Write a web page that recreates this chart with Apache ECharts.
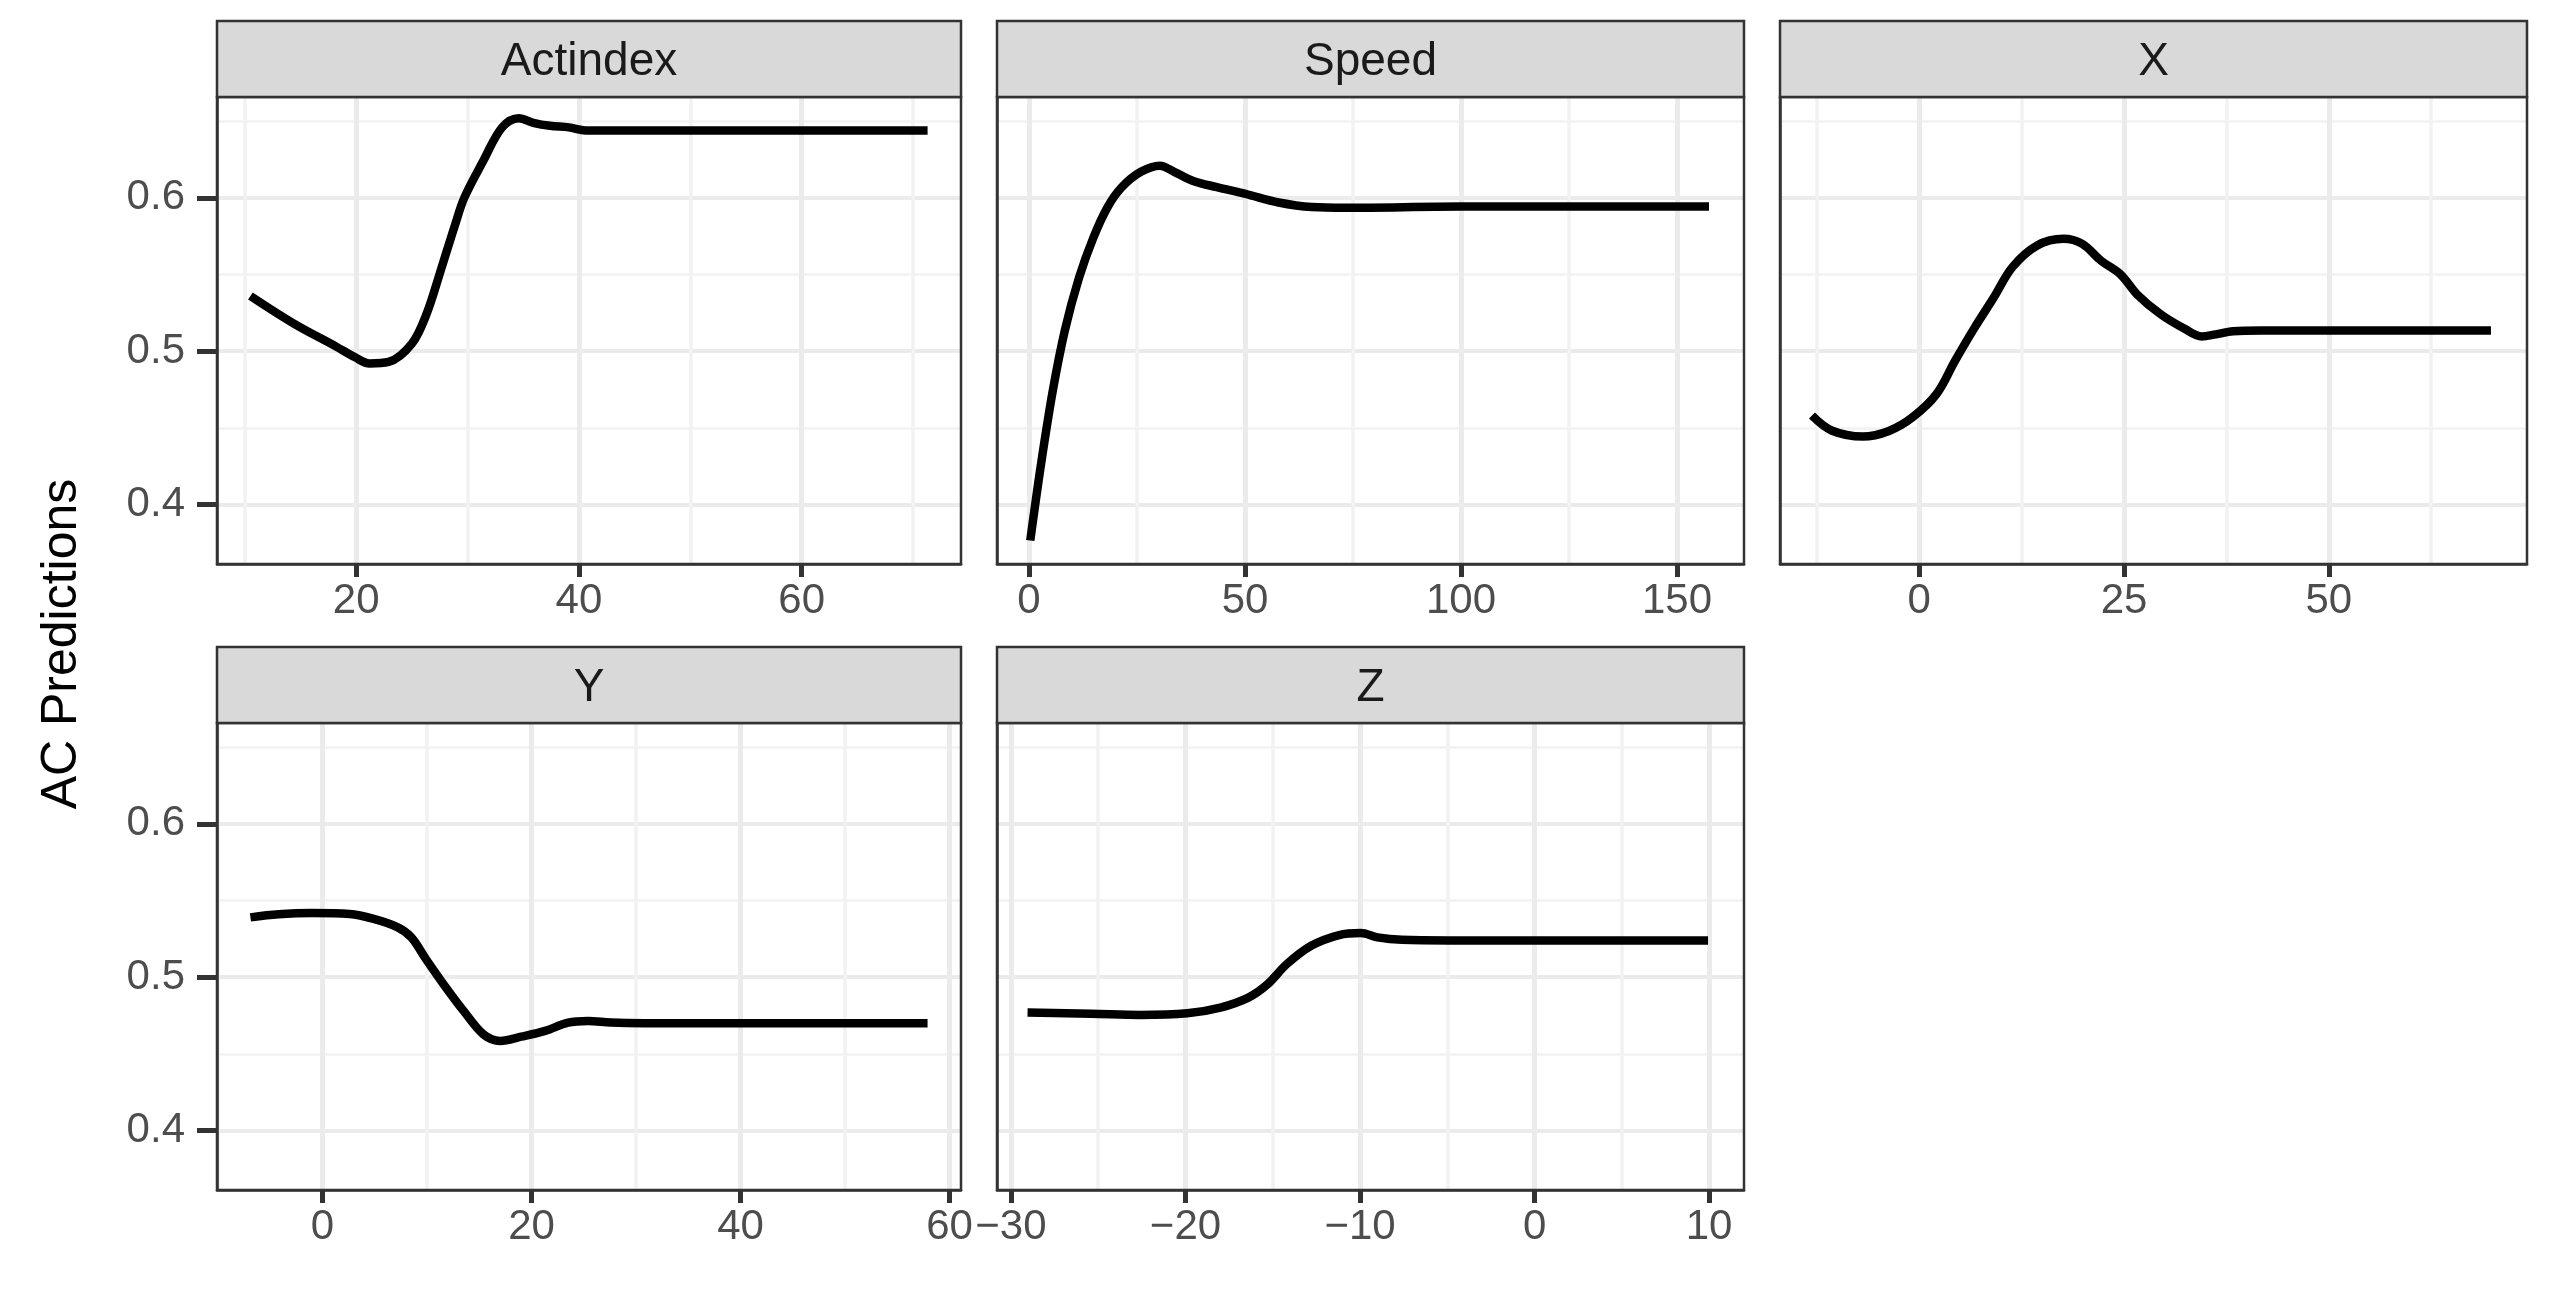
<!DOCTYPE html>
<html>
<head>
<meta charset="utf-8">
<title>AC Predictions</title>
<script src="https://cdn.jsdelivr.net/npm/echarts@6/dist/echarts.min.js"></script>
<style>
  html, body { margin: 0; padding: 0; background: #fff; }
  #chart { width: 2562px; height: 1290px; }
</style>
</head>
<body>
<div id="chart"></div>
<script>
// panel names (facet strips)
const panelNames = ['Actindex', 'Speed', 'X', 'Y', 'Z']

// curves
const actindexX = [10.5, 14.4, 18.2, 19.9, 21.2, 22.9, 25.0, 26.3, 27.6, 28.9, 29.7, 31.4, 33.1, 34.6, 35.9, 37.4, 39.1, 40.6, 45.9, 55, 65, 71.3]
const actindexY = [0.536, 0.518, 0.503, 0.496, 0.492, 0.493, 0.505, 0.524, 0.553, 0.583, 0.600, 0.624, 0.646, 0.652, 0.649, 0.647, 0.646, 0.644, 0.644, 0.644, 0.644, 0.644]

const speedX = [0.3, 2.8, 5.5, 8.3, 11.6, 14.9, 18.2, 21.5, 25.9, 30.3, 33.6, 38.0, 43.5, 50.1, 57.8, 65.5, 73.2, 100, 130, 157.4]
const speedY = [0.3765, 0.4265, 0.474, 0.5135, 0.548, 0.574, 0.594, 0.607, 0.617, 0.621, 0.617, 0.611, 0.607, 0.6026, 0.597, 0.594, 0.5935, 0.5943, 0.5943, 0.5943]

const xX = [-13.1, -10.7, -6.9, -3.7, -0.8, 2.1, 4.4, 6.8, 9.1, 11.4, 14.4, 17.6, 19.9, 22.2, 24.6, 26.6, 29.5, 32.4, 34.5, 36.2, 38.3, 41.8, 55, 69.8]
const xY = [0.458, 0.4483, 0.4443, 0.448, 0.457, 0.472, 0.494, 0.5157, 0.535, 0.555, 0.569, 0.5733, 0.570, 0.559, 0.550, 0.537, 0.524, 0.5146, 0.5096, 0.511, 0.513, 0.5135, 0.5135, 0.5135]

const yX = [-6.9, -4.2, -1.0, 2.6, 4.9, 7.2, 8.5, 9.9, 11.7, 13.5, 15.4, 17.0, 19.0, 21.3, 23.5, 25.4, 27.6, 30.8, 45, 57.9]
const yY = [0.539, 0.541, 0.5418, 0.5412, 0.538, 0.5325, 0.526, 0.5118, 0.4943, 0.478, 0.4627, 0.4584, 0.4612, 0.465, 0.4704, 0.4715, 0.4704, 0.470, 0.470, 0.470]

const zX = [-29.05, -25.4, -22.6, -19.9, -18.0, -16.4, -15.3, -14.2, -12.8, -11.2, -9.96, -9.0, -7.6, -4.9, 2.5, 9.94]
const zY = [0.4769, 0.4762, 0.4754, 0.4765, 0.4802, 0.4867, 0.4954, 0.5085, 0.5205, 0.5275, 0.5288, 0.526, 0.5244, 0.524, 0.524, 0.524]

// tick labels
const yTicks = [0.4, 0.5, 0.6]
const yMinor = [0.45, 0.55, 0.65]
const actindexTicks = [20, 40, 60]
const actindexMinor = [10, 30, 50, 70]
const speedTicks = [0, 50, 100, 150]
const speedMinor = [25, 75, 125]
const xTicks = [0, 25, 50]
const xMinor = [-12.5, 12.5, 37.5, 62.5]
const yPanelTicks = [0, 20, 40, 60]
const yPanelMinor = [-10, 10, 30, 50]
const zTicks = [-30, -20, -10, 0, 10]
const zMinor = [-25, -15, -5, 5]

// axis ranges (free x scales, shared y)
const xRanges = [[7.5, 74.3], [-7.4, 165.5], [-17.0, 74.2], [-10.1, 61.1], [-30.8, 12.0]]
const yRange = [0.3612, 0.6658]

const curves = [[actindexX, actindexY], [speedX, speedY], [xX, xY], [yX, yY], [zX, zY]]
const majorTicks = [actindexTicks, speedTicks, xTicks, yPanelTicks, zTicks]
const minorTicks = [actindexMinor, speedMinor, xMinor, yPanelMinor, zMinor]

// layout
const FONT = "'Liberation Sans', Arial, sans-serif"
const colLeft = [217, 997, 1780]
const colWidth = [744, 747, 747]
const rowTop = [97, 723]
const panelH = 467
const stripH = 76
const boxes = panelNames.map((n, i) => {
  const c = i % 3, r = Math.floor(i / 3)
  return { left: colLeft[c], top: rowTop[r], width: colWidth[c], height: panelH, col: c }
})

const minus = v => String(v).replace('-', '\u2212')

const grid = boxes.map(b => ({
  left: b.left, top: b.top, width: b.width, height: b.height, show: false
}))

const xAxis = []
const yAxis = []
boxes.forEach((b, i) => {
  // major x
  xAxis.push({
    gridIndex: i, type: 'value', min: xRanges[i][0], max: xRanges[i][1], position: 'bottom',
    axisLine: { show: true, onZero: false, lineStyle: { color: '#333333', width: 2.5 } },
    axisTick: { show: true, length: 13, customValues: majorTicks[i], lineStyle: { color: '#333333', width: 5 } },
    axisLabel: { customValues: majorTicks[i], margin: 16, fontSize: 42, color: '#4D4D4D', fontFamily: FONT, formatter: minus },
    splitLine: { show: true, lineStyle: { color: '#EBEBEB', width: 5 } }
  })
  // minor x (grid lines only)
  xAxis.push({
    gridIndex: i, type: 'value', min: xRanges[i][0], max: xRanges[i][1], position: 'top',
    axisLine: { show: false, onZero: false }, axisLabel: { show: false },
    axisTick: { show: false, customValues: minorTicks[i] },
    splitLine: { show: true, lineStyle: { color: '#F2F2F2', width: 3.5 } }
  })
  const showY = b.col === 0
  yAxis.push({
    gridIndex: i, type: 'value', min: yRange[0], max: yRange[1], position: 'left',
    axisLine: { show: true, onZero: false, lineStyle: { color: '#333333', width: 2.5 } },
    axisTick: { show: showY, length: 20, customValues: yTicks, lineStyle: { color: '#333333', width: 5 } },
    axisLabel: { show: showY, customValues: yTicks, margin: 32, fontSize: 42, color: '#4D4D4D', fontFamily: FONT, formatter: v => v.toFixed(1) },
    splitLine: { show: true, lineStyle: { color: '#EBEBEB', width: 4 } }
  })
  yAxis.push({
    gridIndex: i, type: 'value', min: yRange[0], max: yRange[1], position: 'right',
    axisLine: { show: false, onZero: false }, axisLabel: { show: false },
    axisTick: { show: false, customValues: yMinor },
    splitLine: { show: true, lineStyle: { color: '#F2F2F2', width: 2.5 } }
  })
})

const series = curves.map((c, i) => ({
  type: 'line',
  name: panelNames[i],
  xAxisIndex: 2 * i,
  yAxisIndex: 2 * i,
  data: c[0].map((x, k) => [x, c[1][k]]),
  symbol: 'none',
  smooth: 0.35,
  lineStyle: { color: '#000', width: 8.5 },
  z: 5,
  silent: true
}))

const graphic = []
boxes.forEach((b, i) => {
  // panel border
  graphic.push({
    type: 'rect', z: 50, silent: true,
    shape: { x: b.left, y: b.top, width: b.width, height: b.height },
    style: { fill: null, stroke: '#333333', lineWidth: 2.5 }
  })
  // strip
  graphic.push({
    type: 'rect', z: 50, silent: true,
    shape: { x: b.left, y: b.top - stripH, width: b.width, height: stripH },
    style: { fill: '#D9D9D9', stroke: '#333333', lineWidth: 2.5 }
  })
  graphic.push({
    type: 'text', z: 51, silent: true,
    x: b.left + b.width / 2, y: b.top - stripH / 2 + 3,
    style: { text: panelNames[i], fontSize: 46, fontFamily: FONT, fill: '#1A1A1A', align: 'center', verticalAlign: 'middle' }
  })
})
graphic.push({
  type: 'text', silent: true,
  x: 62, y: 644, rotation: Math.PI / 2,
  style: { text: 'AC Predictions', fontSize: 50, fontFamily: FONT, fill: '#000', align: 'center', verticalAlign: 'middle' }
})

const chart = echarts.init(document.getElementById('chart'))
chart.setOption({
  animation: false,
  backgroundColor: '#fff',
  grid, xAxis, yAxis, series, graphic
})
</script>
</body>
</html>
